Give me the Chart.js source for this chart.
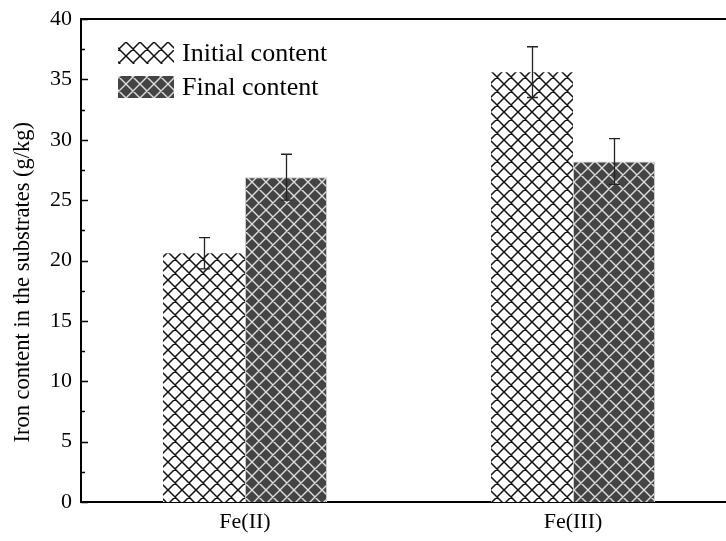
<!DOCTYPE html>
<html>
<head>
<meta charset="utf-8">
<script src="https://cdn.jsdelivr.net/npm/chart.js@4.4.1/dist/chart.umd.min.js"></script>
<style>
  html, body { margin: 0; padding: 0; overflow: hidden; background: #fff; }
  #wrap { width: 740px; height: 541px; }
</style>
</head>
<body>
<div id="wrap"><canvas id="chart" width="740" height="541"></canvas></div>
<script>
// Iron content per substrate, before and after
const categories = ['Fe(II)', 'Fe(III)'];
const seriesNames = ['Initial content', 'Final content'];
const initialContent = [20.6, 35.6];
const finalContent = [26.9, 28.2];
const initialError = [1.3, 2.1];
const finalError = [1.9, 1.9];
const yMajorTicks = [0, 5, 10, 15, 20, 25, 30, 35, 40];
const yMinorTicks = [2.5, 7.5, 12.5, 17.5, 22.5, 27.5, 32.5, 37.5];
const yTitle = 'Iron content in the substrates (g/kg)';

const FONT = "'Liberation Serif', 'Times New Roman', serif";

// Cross-hatch fill: diagonal lines in both directions on a solid ground
function crossHatch(bg, fg, lw) {
  const s = 14;
  const c = document.createElement('canvas');
  c.width = s; c.height = s;
  const g = c.getContext('2d');
  g.fillStyle = bg;
  g.fillRect(0, 0, s, s);
  g.strokeStyle = fg;
  g.lineWidth = lw;
  g.beginPath();
  for (const k of [-s, 0, s]) {
    g.moveTo(k - 2, -2); g.lineTo(k + s + 2, s + 2);
  }
  for (const k of [0, s, 2 * s]) {
    g.moveTo(k + 2, -2); g.lineTo(k - s - 2, s + 2);
  }
  g.stroke();
  return g.createPattern(c, 'repeat');
}

const lightHatch = crossHatch('#ffffff', '#111111', 1.5);
const darkHatch = crossHatch('#444444', '#dddddd', 1.4);

const errors = [initialError, finalError];

// Error bars centred on each bar
const errorBarPlugin = {
  id: 'errorBars',
  afterDatasetsDraw(chart) {
    const ctx = chart.ctx;
    const y = chart.scales.y;
    ctx.save();
    ctx.strokeStyle = '#222';
    ctx.lineWidth = 1.3;
    chart.data.datasets.forEach((ds, i) => {
      const meta = chart.getDatasetMeta(i);
      meta.data.forEach((bar, j) => {
        const v = ds.data[j];
        const e = errors[i][j];
        const x = Math.round(bar.x) + 0.5;
        const yt = y.getPixelForValue(v + e);
        const yb = y.getPixelForValue(v - e);
        const cap = 5.5;
        ctx.beginPath();
        ctx.moveTo(x, yt); ctx.lineTo(x, yb);
        ctx.moveTo(x - cap, yt); ctx.lineTo(x + cap, yt);
        ctx.moveTo(x - cap, yb); ctx.lineTo(x + cap, yb);
        ctx.stroke();
      });
    });
    ctx.restore();
  }
};

// Frame top line, inward ticks on the value axis and the axis title
const framePlugin = {
  id: 'frame',
  afterDraw(chart) {
    const ctx = chart.ctx;
    const a = chart.chartArea;
    const y = chart.scales.y;
    ctx.save();
    ctx.strokeStyle = '#000';
    ctx.lineWidth = 2;
    ctx.beginPath();
    ctx.moveTo(a.left - 1, a.top);
    ctx.lineTo(chart.width, a.top);
    ctx.stroke();
    ctx.lineWidth = 1.3;
    ctx.beginPath();
    yMajorTicks.forEach(t => {
      const p = Math.round(y.getPixelForValue(t)) + 0.5;
      ctx.moveTo(a.left, p); ctx.lineTo(a.left + 7, p);
    });
    yMinorTicks.forEach(t => {
      const p = Math.round(y.getPixelForValue(t)) + 0.5;
      ctx.moveTo(a.left, p); ctx.lineTo(a.left + 4, p);
    });
    ctx.stroke();

    // value axis title, set slightly below the axis midpoint
    ctx.translate(23, y.getPixelForValue(18.2));
    ctx.rotate(-Math.PI / 2);
    ctx.fillStyle = '#000';
    ctx.font = '22.5px ' + FONT;
    ctx.textAlign = 'center';
    ctx.textBaseline = 'middle';
    ctx.fillText(yTitle, 0, 0);
    ctx.restore();
  }
};

// Legend drawn inside the plot area, top left
const insideLegendPlugin = {
  id: 'insideLegend',
  afterDraw(chart) {
    const ctx = chart.ctx;
    const a = chart.chartArea;
    const boxX = a.left + 37, boxW = 56, boxH = 22;
    const tops = [a.top + 23, a.top + 57];
    ctx.save();
    chart.data.datasets.forEach((ds, i) => {
      ctx.fillStyle = ds.backgroundColor;
      ctx.fillRect(boxX, tops[i], boxW, boxH);
      ctx.fillStyle = '#000';
      ctx.font = '26px ' + FONT;
      ctx.textBaseline = 'middle';
      ctx.textAlign = 'left';
      ctx.fillText(ds.label, boxX + boxW + 8, tops[i] + boxH / 2 + 1);
    });
    ctx.restore();
  }
};

new Chart(document.getElementById('chart'), {
  type: 'bar',
  data: {
    labels: categories,
    datasets: [
      {
        label: seriesNames[0],
        data: initialContent,
        backgroundColor: lightHatch,
        borderWidth: 0,
        barPercentage: 1,
        categoryPercentage: 0.5
      },
      {
        label: seriesNames[1],
        data: finalContent,
        backgroundColor: darkHatch,
        borderColor: '#cccccc',
        borderWidth: 1,
        barPercentage: 1,
        categoryPercentage: 0.5
      }
    ]
  },
  options: {
    responsive: false,
    animation: false,
    devicePixelRatio: 1,
    layout: { padding: { top: 19, right: 3, left: 0, bottom: 0 } },
    plugins: {
      legend: { display: false },
      tooltip: { enabled: false }
    },
    scales: {
      x: {
        type: 'category',
        offset: true,
        grid: { display: false, drawTicks: false },
        border: { display: true, color: '#000', width: 2 },
        ticks: { color: '#000', font: { family: FONT, size: 22 }, padding: 7 },
        afterFit(s) { s.height = 39; s.paddingLeft = 0; s.paddingRight = 0; }
      },
      y: {
        min: 0,
        max: 40,
        grid: { display: false, drawTicks: false },
        border: { display: true, color: '#000', width: 2 },
        ticks: {
          stepSize: 5,
          color: '#000',
          font: { family: FONT, size: 22 },
          padding: 9
        },
        title: { display: false, text: yTitle },
        afterFit(s) { s.width = 81; s.paddingTop = 0; s.paddingBottom = 0; }
      }
    }
  },
  plugins: [errorBarPlugin, framePlugin, insideLegendPlugin]
});
</script>
</body>
</html>
